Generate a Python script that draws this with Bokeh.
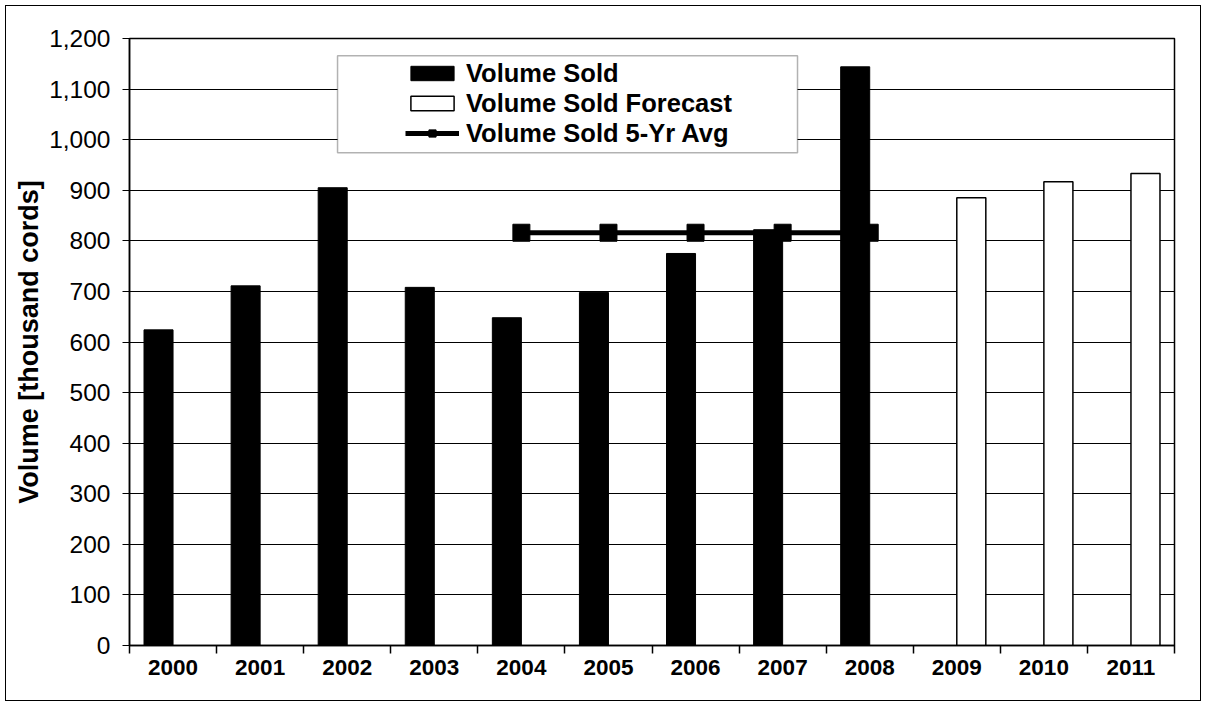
from bokeh.plotting import figure
from bokeh.models import (ColumnDataSource, Range1d, FixedTicker, SingleIntervalTicker,
                          NumeralTickFormatter, Legend, LegendItem, BoxAnnotation)
from bokeh.transform import dodge
from bokeh.embed import file_html
from bokeh.resources import INLINE

# ---- data ----
years_sold = [2000, 2001, 2002, 2003, 2004, 2005, 2006, 2007, 2008]
volume_sold = [624, 711, 905, 708, 648, 698, 775, 822, 1144]
years_forecast = [2009, 2010, 2011]
volume_forecast = [885, 917, 933]
years_avg = [2004, 2005, 2006, 2007, 2008]
volume_avg = [816, 816, 816, 816, 816]
all_years = years_sold + years_forecast
y_ticks_interval = 100

FONT = "Liberation Sans"

src_sold = ColumnDataSource(dict(year=years_sold, vol=volume_sold))
src_fc = ColumnDataSource(dict(year=years_forecast, vol=volume_forecast))
src_avg = ColumnDataSource(dict(year=years_avg, vol=volume_avg))

W, H = 1196, 696
p = figure(width=W, height=H, output_backend="svg", toolbar_location=None,
           x_range=Range1d(all_years[0] - 0.5, all_years[-1] + 0.5),
           y_range=Range1d(0, 1200),
           min_border_left=123, min_border_right=28, min_border_top=32, min_border_bottom=57)
p.styles = {"border": "1px solid black", "margin": "5px"}
p.background_fill_color = "white"
p.border_fill_color = "white"
p.outline_line_color = "black"
p.outline_line_width = 1.5

# grid
p.xgrid.grid_line_color = None
p.ygrid.grid_line_color = "black"
p.ygrid.grid_line_width = 1.2

# y axis
p.yaxis.ticker = SingleIntervalTicker(interval=y_ticks_interval)
p.yaxis.formatter = NumeralTickFormatter(format="0,0")
p.yaxis.minor_tick_line_color = None
p.yaxis.major_tick_in = 0
p.yaxis.major_tick_out = 7
p.yaxis.major_label_standoff = 12
p.yaxis.major_label_text_font = FONT
p.yaxis.major_label_text_font_size = "24.5px"
p.yaxis.major_label_text_color = "black"
p.yaxis.axis_label = "Volume [thousand cords]"
p.yaxis.axis_label_text_font = FONT
p.yaxis.axis_label_text_font_style = "bold"
p.yaxis.axis_label_text_font_size = "27px"
p.yaxis.axis_label_text_color = "black"
p.yaxis.axis_label_standoff = 2
p.yaxis.axis_line_color = "black"
p.yaxis.axis_line_width = 1.5

# x axis: labels at category centres, ticks between categories
p.xaxis.ticker = FixedTicker(ticks=all_years,
                             minor_ticks=[y - 0.5 for y in all_years] + [all_years[-1] + 0.5])
p.xaxis.major_label_overrides = {y: str(y) for y in all_years}
p.xaxis.major_tick_line_color = None
p.xaxis.major_tick_out = 0
p.xaxis.major_tick_in = 0
p.xaxis.minor_tick_in = 0
p.xaxis.minor_tick_out = 8
p.xaxis.minor_tick_line_color = "black"
p.xaxis.minor_tick_line_width = 1.5
p.xaxis.major_label_standoff = 6
p.xaxis.major_label_text_font = FONT
p.xaxis.major_label_text_font_style = "bold"
p.xaxis.major_label_text_font_size = "22.5px"
p.xaxis.major_label_text_color = "black"
p.xaxis.axis_line_color = "black"
p.xaxis.axis_line_width = 1.5

# marks
r_avg_line = p.line(x="year", y="vol", source=src_avg, line_color="black", line_width=5)
r_avg_pts = p.scatter(x="year", y="vol", source=src_avg, marker="square", size=17,
                      fill_color="black", line_color="black")
r_sold = p.vbar(x=dodge("year", -1/6), top="vol", width=1/3, source=src_sold,
                fill_color="black", line_color="black", line_width=1)
r_fc = p.vbar(x=dodge("year", 1/6), top="vol", width=1/3, source=src_fc,
              fill_color="white", line_color="black", line_width=1.5)

# legend frame
box = BoxAnnotation(left=2001.889, right=2007.171, top=1166, bottom=974,
                    fill_color="white", fill_alpha=1.0, line_color="black", line_width=1.5)
p.add_layout(box)

legend = Legend(items=[LegendItem(label="Volume Sold", renderers=[r_sold]),
                       LegendItem(label="Volume Sold Forecast", renderers=[r_fc]),
                       LegendItem(label="Volume Sold 5-Yr Avg", renderers=[r_avg_line, r_avg_pts])],
                location=(276, 497))
legend.padding = 0
legend.margin = 0
legend.spacing = 0
legend.glyph_width = 54
legend.glyph_height = 18
legend.label_height = 30
legend.label_standoff = 7
legend.label_text_font = FONT
legend.label_text_font_style = "bold"
legend.label_text_font_size = "25.5px"
legend.label_text_color = "black"
legend.border_line_color = None
legend.background_fill_alpha = 0
p.add_layout(legend)

open("out.html", "w").write(file_html(p, INLINE))
